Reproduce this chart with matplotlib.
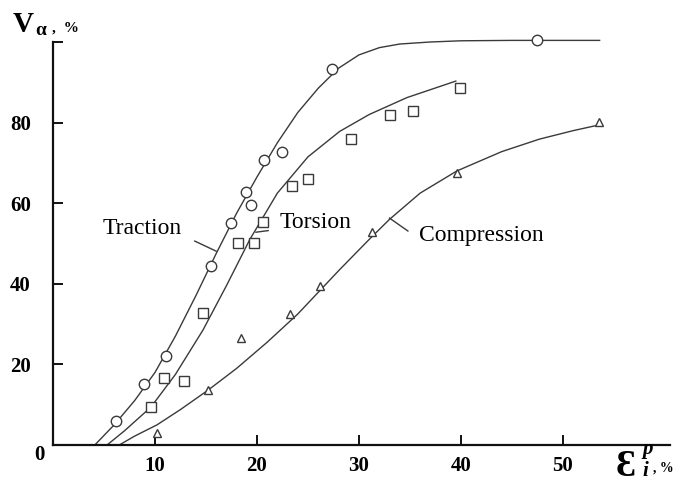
import numpy as np
import matplotlib as mpl
mpl.use('Agg')
from matplotlib import pyplot as plt

# measured points (strain eps_i^p %, V_alpha %)
traction_x = [6.2, 8.9, 11.1, 15.5, 17.5, 18.9, 19.4, 20.7, 22.5, 27.4, 47.5]
traction_y = [6.0, 15.1, 22.1, 44.4, 55.1, 62.8, 59.6, 70.7, 72.7, 93.3, 100.5]
torsion_x = [9.6, 10.9, 12.8, 14.7, 18.1, 19.7, 20.6, 23.4, 25.0, 29.2, 33.0, 35.3, 39.9]
torsion_y = [9.4, 16.6, 15.9, 32.7, 50.1, 50.1, 55.4, 64.3, 66.0, 75.9, 81.9, 82.9, 88.6]
compr_x = [10.2, 15.2, 18.4, 23.2, 26.2, 31.3, 39.6, 53.5]
compr_y = [3.0, 13.6, 26.6, 32.5, 39.5, 52.9, 67.4, 80.1]

# fitted curves as drawn
traction_fit_x = [4.1, 6, 8, 10, 12, 14, 16, 18, 20, 22, 24, 26, 28, 30, 32, 34, 37, 40, 45, 53.6]
traction_fit_y = [0, 5, 11, 18, 27, 37, 47.5, 57.5, 66.5, 75, 82.5, 88.5, 93.5, 96.8, 98.6, 99.5, 100, 100.3, 100.4, 100.4]
torsion_fit_x = [5.3, 7, 9.6, 12, 14.7, 17, 19.3, 22, 25, 28.1, 31, 34.7, 39.5]
torsion_fit_y = [0, 3.5, 9.4, 17.5, 28.5, 39.5, 51, 62.5, 71.5, 77.8, 82, 86.2, 90.3]
compr_fit_x = [6.5, 8, 10.2, 12.5, 15.2, 18, 21, 24, 28.1, 31, 33, 36, 39.6, 44, 47.7, 51, 53.5]
compr_fit_y = [0, 2.2, 5, 8.8, 13.6, 19, 25.5, 32.5, 43.5, 51, 56, 62.5, 68, 72.8, 75.9, 78, 79.4]

x_ticks = [10, 20, 30, 40, 50]
y_ticks = [20, 40, 60, 80, 100]
y_ticklabels = ['20', '40', '60', '80', '']

serif = ['Liberation Serif', 'DejaVu Serif']
line_col = '#3a3a3a'
axis_col = '#111111'

fig = plt.figure(figsize=(6.8, 4.88), dpi=100)
ax = fig.add_axes([53 / 680, 43 / 488, 617 / 680, 403 / 488])

# curves
for fx, fy in [(traction_fit_x, traction_fit_y), (torsion_fit_x, torsion_fit_y),
               (compr_fit_x, compr_fit_y)]:
    ax.plot(fx, fy, '-', color=line_col, lw=1.0, zorder=2, clip_on=False)

# markers
ax.plot(traction_x, traction_y, 'o', ms=7.5, mfc='white', mec=line_col, mew=1.0,
        zorder=3, clip_on=False)
ax.plot(torsion_x, torsion_y, 's', ms=6.5, mfc='white', mec=line_col, mew=1.0,
        zorder=3, clip_on=False)
ax.plot(compr_x, compr_y, '^', ms=5.5, mfc='white', mec=line_col, mew=1.0,
        zorder=3, clip_on=False)

# curve names with leader lines
ax.text(4.9, 53.8, 'Traction', family=serif, fontsize=17, va='center', ha='left')
ax.plot([13.9, 16.0], [50.6, 48.1], color=line_col, lw=1.0)
ax.text(22.2, 55.3, 'Torsion', family=serif, fontsize=17, va='center', ha='left')
ax.plot([19.9, 21.1], [52.8, 53.2], color=line_col, lw=1.0)
ax.text(35.9, 52.1, 'Compression', family=serif, fontsize=17, va='center', ha='left')
ax.plot([33.0, 34.8], [56.3, 53.1], color=line_col, lw=1.0)

ax.set_xlim(0, 60.5)
ax.set_ylim(0, 100)
ax.set_xticks(x_ticks)
ax.set_yticks(y_ticks)
ax.set_yticklabels(y_ticklabels)
for lab in ax.get_xticklabels() + ax.get_yticklabels():
    lab.set_family(serif)
    lab.set_fontweight('bold')
    lab.set_fontsize(15)
ax.tick_params(direction='in', length=7, width=1.4, color=axis_col)
ax.tick_params(axis='x', pad=8)
ax.tick_params(axis='y', pad=16)
for s in ['top', 'right']:
    ax.spines[s].set_visible(False)
for s in ['left', 'bottom']:
    ax.spines[s].set_linewidth(1.6)
    ax.spines[s].set_color(axis_col)

# origin label
fig.text(39 / 680, 1 - 460 / 488, '0', family=serif, fontsize=15, fontweight='bold',
         ha='center', va='baseline')

# y axis title
fig.text(13 / 680, 1 - 32 / 488, 'V', family=serif, fontsize=21, fontweight='bold',
         ha='left', va='baseline')
fig.text(35 / 680, 1 - 35 / 488, 'α', family=serif, fontsize=14, fontweight='bold',
         ha='left', va='baseline')
fig.text(52 / 680, 1 - 32 / 488, ',  %', family=serif, fontsize=11, fontweight='bold',
         ha='left', va='baseline')

# x axis title
fig.text(616 / 680, 1 - 476 / 488, 'Ɛ', family=serif, fontsize=27, fontweight='bold',
         ha='left', va='baseline')
fig.text(642 / 680, 1 - 454 / 488, 'p', family=serif, fontsize=15, fontweight='bold',
         style='italic', ha='left', va='baseline')
fig.text(642 / 680, 1 - 476 / 488, 'i', family=serif, fontsize=15, fontweight='bold',
         style='italic', ha='left', va='baseline')
fig.text(653 / 680, 1 - 472 / 488, ', %', family=serif, fontsize=10, fontweight='bold',
         ha='left', va='baseline')

plt.savefig('out.png', dpi=100)
plt.close(fig)
